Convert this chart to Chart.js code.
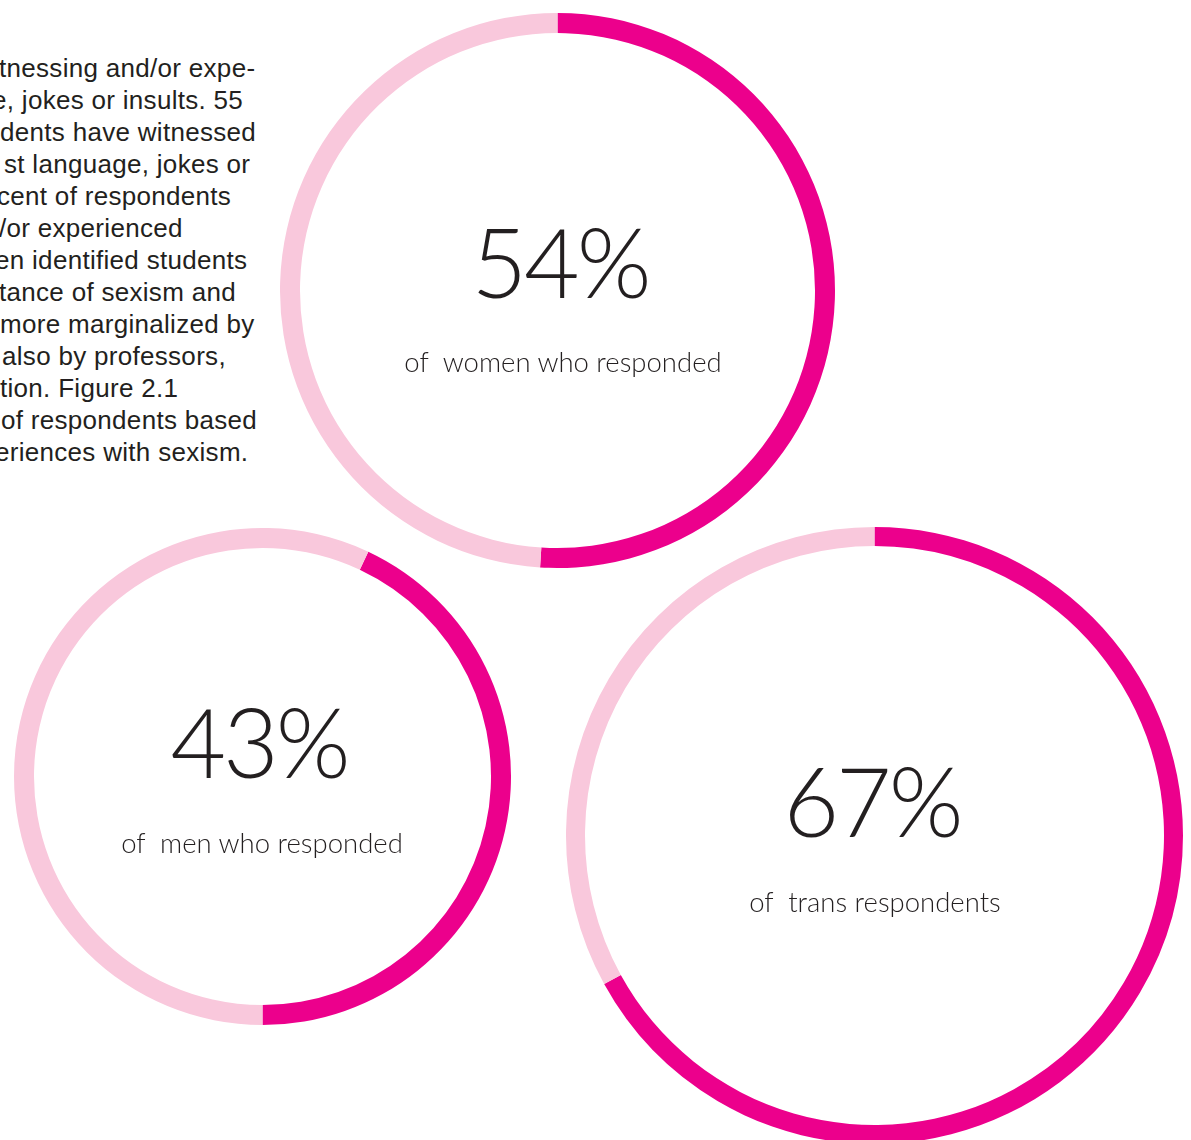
<!DOCTYPE html>
<html>
<head>
<meta charset="utf-8">
<script src="https://cdn.jsdelivr.net/npm/chart.js@4.4.1/dist/chart.umd.min.js"></script>
<style>
  html, body { margin:0; padding:0; background:#ffffff; width:1191px; height:1140px; overflow:hidden; position:relative; }
  .ring { position:absolute; }
  .para { position:absolute; left:0; top:52px; font-family:"Liberation Sans", Arial, Helvetica, sans-serif; font-size:26px; line-height:32px; color:#231f20; white-space:nowrap; letter-spacing:0.3px; }
  .para div { position:relative; }
  .big { position:absolute; font-family:Lato, "Open Sans", sans-serif; font-weight:300; color:#231f20; white-space:nowrap; transform:translateX(-50%); line-height:1; letter-spacing:-3px; }
  .sub { position:absolute; font-family:Lato, "Open Sans", sans-serif; font-weight:300; color:#231f20; white-space:pre; transform:translateX(-50%); line-height:1; }
</style>
</head>
<body>
<div class="para" id="para"></div>
<canvas id="c0" class="ring"></canvas>
<canvas id="c1" class="ring"></canvas>
<canvas id="c2" class="ring"></canvas>
<script>
// ---- data ----
const groups = ["women", "men", "trans"];
const percentLabels = ["54%", "43%", "67%"];
const captions = ["of  women who responded", "of  men who responded", "of  trans respondents"];
// arc share drawn in magenta, as read from the rings
const arcShares = [51, 43, 67];
const paragraphLines = [
  "tnessing and/or expe-",
  "e, jokes or insults. 55",
  "dents have witnessed",
  "st language, jokes or",
  "cent of respondents",
  "/or experienced",
  "en identified students",
  "tance of sexism and",
  "more marginalized by",
  "also by professors,",
  "tion. Figure 2.1",
  "of respondents based",
  "eriences with sexism."
];

// ---- layout / style (not data) ----
const MAGENTA = "#ec008c";
const PINK = "#f9c8dc";
const rings = [
  { cx: 557.5, cy: 290.5, r: 277.5, w: 20, endAtBottom: false, textX: 563, bigX: 560, bigTop: 213, bigSize: 96, subTop: 348, subSize: 27.5 },
  { cx: 262,   cy: 776.5, r: 248.5, w: 20, endAtBottom: true,  textX: 262, bigX: 259, bigTop: 693, bigSize: 96, subTop: 829, subSize: 27.5 },
  { cx: 874.5, cy: 835.5, r: 308.5, w: 19, endAtBottom: false, textX: 875, bigX: 872, bigTop: 752, bigSize: 96, subTop: 888, subSize: 27.5 }
];
const lineOffsets = [-1, -8, 0, 4, -3, -1, -5, -1, 0, 2, 0, 1, -5];

const para = document.getElementById("para");
paragraphLines.forEach((t, i) => {
  const d = document.createElement("div");
  d.textContent = t;
  d.style.left = lineOffsets[i] + "px";
  para.appendChild(d);
});

rings.forEach((g, i) => {
  const cv = document.getElementById("c" + i);
  const size = Math.round(g.r * 2);
  cv.width = size; cv.height = size;
  cv.style.width = size + "px"; cv.style.height = size + "px";
  cv.style.left = (g.cx - g.r) + "px";
  cv.style.top = (g.cy - g.r) + "px";
  const v = arcShares[i];
  new Chart(cv, {
    type: "doughnut",
    data: {
      labels: [groups[i] + " yes", groups[i] + " no"],
      datasets: [{ data: [v, 100 - v], backgroundColor: [MAGENTA, PINK], borderWidth: 0, hoverOffset: 0 }]
    },
    options: {
      responsive: false,
      animation: false,
      events: [],
      rotation: g.endAtBottom ? 180 - v * 3.6 : 0,
      cutout: (g.r - g.w),
      layout: { padding: 0 },
      plugins: { legend: { display: false }, tooltip: { enabled: false } }
    }
  });

  const big = document.createElement("div");
  big.className = "big";
  big.textContent = percentLabels[i];
  big.style.left = g.bigX + "px";
  big.style.top = g.bigTop + "px";
  big.style.fontSize = g.bigSize + "px";
  document.body.appendChild(big);

  const sub = document.createElement("div");
  sub.className = "sub";
  sub.textContent = captions[i];
  sub.style.left = g.textX + "px";
  sub.style.top = g.subTop + "px";
  sub.style.fontSize = g.subSize + "px";
  document.body.appendChild(sub);
});
</script>
</body>
</html>
